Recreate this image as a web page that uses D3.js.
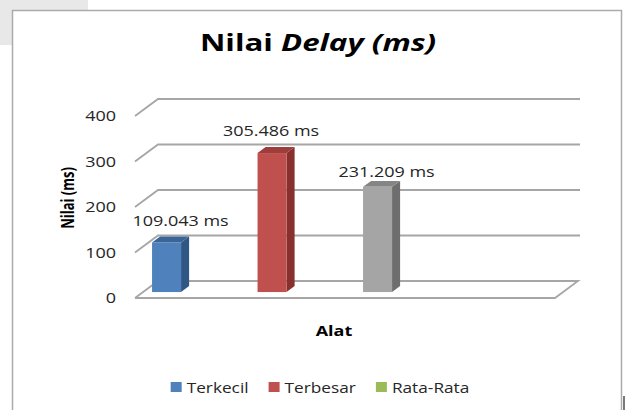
<!DOCTYPE html>
<html>
<head>
<meta charset="utf-8">
<script src="https://cdn.jsdelivr.net/npm/d3@7"></script>
<style>
  body { margin: 0; background: #fff; }
  svg { display: block; font-family: "Open Sans", "Noto Sans", sans-serif; }
</style>
</head>
<body>
<div id="chart"></div>
<script>
// Chart data
const series = ["Terkecil", "Terbesar", "Rata-Rata"];
const values = [109.043, 305.486, 231.209];
const yTicks = [0, 100, 200, 300, 400];
const legendColors = ["#4f81bd", "#c0504d", "#9bbb59"];
// bar faces: front, top, side
const barColors = [
    ["#4f81bd", "#3b6597", "#2f5684"],
    ["#c0504d", "#9c3e3b", "#87302e"],
    ["#a5a5a5", "#858585", "#6e6e6e"]
];
// manual nudges for the data labels (Excel placed them by hand)
const labelNudge = [[14, -16], [-1, -17], [9, -10]];

const width = 626, height = 410;
const sx = 1.2; // text in the picture is stretched sideways

const svg = d3.select('#chart')
    .append('svg')
    .attr('width', width)
    .attr('height', height);

// Surroundings of the embedded chart
svg.append('rect').attr('x', 0).attr('y', 0).attr('width', 88).attr('height', 10).attr('fill', '#e8e8e8');
svg.append('rect').attr('x', 0).attr('y', 0).attr('width', 12).attr('height', 45).attr('fill', '#e8e8e8');
svg.append('rect')
    .attr('x', 12.5).attr('y', 10.5)
    .attr('width', 609).attr('height', 430)
    .attr('fill', '#fff')
    .attr('stroke', '#ababab')
    .attr('stroke-width', 1.5);
svg.append('line')
    .attr('x1', 624).attr('x2', 624).attr('y1', 396).attr('y2', 410)
    .attr('stroke', '#222').attr('stroke-width', 1.2);

// helper for stretched text
function stretchedText(g, x, y, txt, opts = {}) {
    return g.append('text')
        .attr('transform', `translate(${x},${y}) scale(${opts.sx || sx},1)`)
        .attr('text-anchor', opts.anchor || 'middle')
        .attr('font-size', opts.size || 15)
        .attr('font-weight', opts.weight || 'normal')
        .attr('fill', opts.fill || '#262626')
        .text(txt);
}

// 3D geometry
const front = { left: 135, right: 555 };
const depth = { dx: 23, dy: -17 };
const barDepth = [0.35, 0.70];

const y = d3.scaleLinear().domain([0, 400]).range([298, 116]);
const x = d3.scaleBand()
    .domain(series)
    .range([144, 384])
    .paddingInner(0.725)
    .paddingOuter(0);

const grid = svg.append('g')
    .attr('fill', 'none')
    .attr('stroke', '#a6a6a6')
    .attr('stroke-width', 1.8);

// floor
grid.append('path')
    .attr('d', d3.line()([
        [front.left, y(0)],
        [front.right, y(0)],
        [front.right + depth.dx, y(0) + depth.dy],
        [front.left + depth.dx, y(0) + depth.dy],
        [front.left, y(0)]
    ]));

// side wall diagonals + back wall gridlines
yTicks.filter(t => t > 0).forEach(t => {
    grid.append('path')
        .attr('d', d3.line()([
            [front.left, y(t)],
            [front.left + depth.dx, y(t) + depth.dy],
            [front.right + depth.dx + 2, y(t) + depth.dy]
        ]));
});

// tick labels
const ticksG = svg.append('g');
yTicks.forEach(t => {
    stretchedText(ticksG, front.left - 19, y(t) + 5, t, { anchor: 'end' });
});

// bars
const bars = svg.append('g');
series.forEach((s, i) => {
    const ox = depth.dx * barDepth[0], oy = depth.dy * barDepth[0];
    const bx = depth.dx * (barDepth[1] - barDepth[0]), by = depth.dy * (barDepth[1] - barDepth[0]);
    const x0 = x(s) + ox, x1 = x(s) + x.bandwidth() + ox;
    const yb = y(0) + oy, yt = y(values[i]) + oy;
    const c = barColors[i];
    // side
    bars.append('path')
        .attr('d', d3.line()([[x1, yb], [x1 + bx, yb + by], [x1 + bx, yt + by], [x1, yt]]))
        .attr('fill', c[2]);
    // top
    bars.append('path')
        .attr('d', d3.line()([[x0, yt], [x1, yt], [x1 + bx, yt + by], [x0 + bx, yt + by]]))
        .attr('fill', c[1]);
    // front
    bars.append('rect')
        .attr('x', x0).attr('y', yt)
        .attr('width', x1 - x0).attr('height', yb - yt)
        .attr('fill', c[0]);

    // data label
    const cx = (x0 + x1) / 2 + labelNudge[i][0];
    stretchedText(bars, cx, yt + labelNudge[i][1], d3.format('.3f')(values[i]) + ' ms');
});

// title
const title = svg.append('text')
    .attr('transform', `translate(318,51) scale(1.36,1)`)
    .attr('text-anchor', 'middle')
    .attr('font-size', 23)
    .attr('font-weight', 'bold')
    .attr('fill', '#000');
title.append('tspan').text('Nilai ');
title.append('tspan').attr('font-style', 'italic').text('Delay (ms)');

// axis titles
stretchedText(svg, 334, 336, 'Alat', { weight: 'bold', size: 15, fill: '#000' });
svg.append('text')
    .attr('transform', 'translate(74,198) rotate(-90) scale(1,1.3)')
    .attr('text-anchor', 'middle')
    .attr('font-size', 13)
    .attr('font-weight', 'bold')
    .attr('fill', '#000')
    .text('Nilai (ms)');

// legend
const legend = svg.append('g');
const gap = 20;
let cursor = 0;
series.forEach((s, i) => {
    const g = legend.append('g');
    g.append('rect').attr('x', 0).attr('y', -11).attr('width', 11).attr('height', 10).attr('fill', legendColors[i]);
    const t = stretchedText(g, 16, 0, s, { anchor: 'start', sx: 1.15 });
    const w = 16 + t.node().getComputedTextLength() * 1.15;
    g.attr('transform', `translate(${cursor},393)`);
    cursor += w + gap;
});
const total = cursor - gap;
legend.attr('transform', `translate(${320 - total / 2},0)`);
</script>
</body>
</html>
